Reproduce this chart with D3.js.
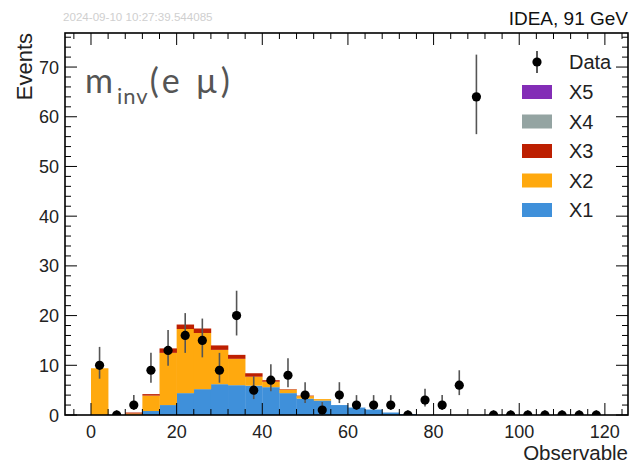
<!DOCTYPE html>
<html><head><meta charset="utf-8">
<script src="https://cdn.jsdelivr.net/npm/d3@7"></script>
<style>body{margin:0;background:#fff}svg{display:block}</style>
</head><body>
<script>
// ---- data ----
const binEdgesStart = 0, binWidth = 4, nBins = 30;
const binCenters = d3.range(nBins).map(i => binEdgesStart + binWidth * i + binWidth / 2);
const X1 = [0,0,0,0.8,2.0,4.4,5.2,6.2,6.0,5.9,5.6,4.4,3.3,2.9,2.0,1.5,1.1,0.5,0.2,0,0,0,0,0,0,0,0,0,0,0];
const X2 = [9.4,0,0.3,3.1,10.5,12.9,11.3,6.9,5.3,1.8,1.1,0.7,0.5,0.3,0,0,0,0,0,0,0,0,0,0,0,0,0,0,0,0];
const X3 = [0,0,0.2,0.3,0.9,0.9,0.9,0.9,0.8,0.7,0.3,0.1,0.1,0,0,0,0,0,0,0,0,0,0,0,0,0,0,0,0,0];
const X4 = new Array(30).fill(0);
const X5 = new Array(30).fill(0);
const dataCounts = [10,0,2,9,13,16,15,9,20,5,7,8,4,1,4,2,2,2,0,3,2,6,64,0,0,0,0,0,0,0];
const errLow  = [2.7,0,1.0,2.5,3.1,3.5,3.4,2.5,4.0,1.8,2.2,2.4,1.6,0.6,1.6,1.0,1.0,1.0,0,1.3,1.0,2.0,7.5,0,0,0,0,0,0,0];
const errHigh = [3.7,1.0,2.0,3.5,4.1,4.5,4.4,3.5,5.0,2.8,3.2,3.4,2.6,1.6,2.6,2.0,2.0,2.0,1.0,2.3,2.0,3.0,8.5,1.0,1.0,1.0,1.0,1.0,1.0,1.0];
const seriesNames = ["X1","X2","X3","X4","X5"];
const seriesColors = ["#3f90da","#ffa90e","#bd1f01","#94a4a2","#832db6"];
const yTicks = [0,10,20,30,40,50,60,70];
const xTicks = [0,20,40,60,80,100,120];

// ---- layout ----
const W = 635, H = 465;
const L = 65, T = 33, R = 628, B = 415;
const svg = d3.select("body").append("svg").attr("width", W).attr("height", H);
const x = d3.scaleLinear().domain([-6.07, 125.4]).range([L, R]);
const y = d3.scaleLinear().domain([0, 76.85]).range([B, T]);

const table = binCenters.map((c, i) => ({c, X1: X1[i], X2: X2[i], X3: X3[i], X4: X4[i], X5: X5[i]}));
const stack = d3.stack().keys(seriesNames)(table);
const g = svg.append("g");
stack.forEach((layer, si) => {
  layer.forEach((d, i) => {
    if (d[1] - d[0] <= 0) return;
    const x0 = x(binCenters[i] - binWidth / 2), x1 = x(binCenters[i] + binWidth / 2);
    g.append("rect").attr("x", x0).attr("width", x1 - x0 + 0.3)
      .attr("y", y(d[1])).attr("height", y(d[0]) - y(d[1]))
      .attr("fill", seriesColors[si]);
  });
});

// ---- data points ----
svg.append("clipPath").attr("id","pc").append("rect").attr("x",L).attr("y",T).attr("width",R-L).attr("height",B-T);
const dp = svg.append("g").attr("clip-path","url(#pc)");
dataCounts.forEach((v, i) => {
  const cx = x(binCenters[i]);
  dp.append("line").attr("x1",cx).attr("x2",cx).attr("y1",y(v - errLow[i])).attr("y2",y(v + errHigh[i]))
    .attr("stroke","#555").attr("stroke-width",1.6);
  dp.append("circle").attr("cx",cx).attr("cy",y(v)).attr("r",4.6).attr("fill","#000");
});

// ---- frame and ticks ----
const ax = svg.append("g").attr("stroke","#000");
d3.range(-4, 125, 4).forEach(v => {
  const len = v % 20 === 0 ? 12 : 6;
  ax.append("line").attr("x1",x(v)).attr("x2",x(v)).attr("y1",B).attr("y2",B-len).attr("stroke-width",1);
  ax.append("line").attr("x1",x(v)).attr("x2",x(v)).attr("y1",T).attr("y2",T+len).attr("stroke-width",1);
});
d3.range(0, 77, 2).forEach(v => {
  const len = v % 10 === 0 ? 12 : 6;
  ax.append("line").attr("x1",L).attr("x2",L+len).attr("y1",y(v)).attr("y2",y(v)).attr("stroke-width",1);
  ax.append("line").attr("x1",R).attr("x2",R-len).attr("y1",y(v)).attr("y2",y(v)).attr("stroke-width",1);
});
svg.append("rect").attr("x",L).attr("y",T).attr("width",R-L).attr("height",B-T)
  .attr("fill","none").attr("stroke","#000").attr("stroke-width",1.6);

const font = "'Liberation Sans', Arial, sans-serif";
svg.append("g").selectAll("text").data(yTicks).join("text")
  .attr("x", L - 6).attr("y", d => y(d) + 6.5).attr("text-anchor","end")
  .attr("font-family",font).attr("font-size",18).attr("fill","#222").text(d => d);
svg.append("g").selectAll("text").data(xTicks).join("text")
  .attr("x", d => x(d)).attr("y", 438).attr("text-anchor","middle")
  .attr("font-family",font).attr("font-size",18).attr("fill","#222").text(d => d);

svg.append("text").attr("x", R).attr("y", 460).attr("text-anchor","end")
  .attr("font-family",font).attr("font-size",20.5).attr("fill","#222").text("Observable");
svg.append("text").attr("transform",`translate(32,${T}) rotate(-90)`).attr("text-anchor","end")
  .attr("font-family",font).attr("font-size",22).attr("fill","#222").text("Events");

svg.append("text").attr("x", R).attr("y", 25).attr("text-anchor","end")
  .attr("font-family",font).attr("font-size",19).attr("fill","#111").text("IDEA, 91 GeV");
svg.append("text").attr("x", 63).attr("y", 21)
  .attr("font-family",font).attr("font-size",11.6).attr("fill","#cfcfcf").text("2024-09-10 10:27:39.544085");

const lab = svg.append("text").attr("x", 85).attr("y", 93)
  .attr("font-family","Lato, 'Open Sans', sans-serif").attr("font-size",34).attr("fill","#555");
lab.append("tspan").text("m");
lab.append("tspan").attr("font-size",22).attr("dx",4).attr("dy",11).attr("letter-spacing",1).text("inv");
lab.append("tspan").attr("dy",-11).attr("dx",1).attr("letter-spacing",4).text("(e μ)");

// ---- legend ----
const lg = svg.append("g");
lg.append("line").attr("x1",537).attr("x2",537).attr("y1",51).attr("y2",73).attr("stroke","#222").attr("stroke-width",1.5);
lg.append("circle").attr("cx",537).attr("cy",62).attr("r",4.6).attr("fill","#000");
lg.append("text").attr("x",569).attr("y",69).attr("font-family",font).attr("font-size",20).attr("fill","#222").text("Data");
[4,3,2,1,0].forEach((si, k) => {
  const cy = 92 + 29.5 * k;
  lg.append("rect").attr("x",522).attr("y",cy-7).attr("width",30).attr("height",14).attr("fill",seriesColors[si]);
  lg.append("text").attr("x",569).attr("y",cy+7).attr("font-family",font).attr("font-size",20).attr("fill","#222").text(seriesNames[si]);
});
</script>
</body></html>
